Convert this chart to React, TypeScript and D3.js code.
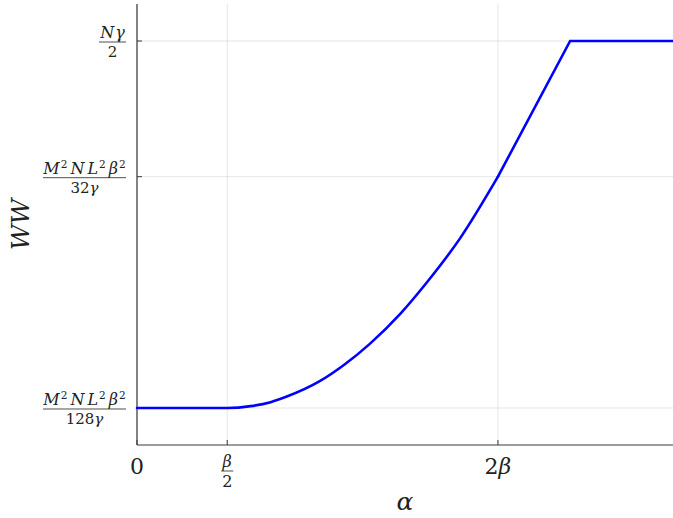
import React from 'react'
import * as d3 from 'd3'

// alpha (in units of beta) and WW (in units of M^2 N L^2 beta^2 / 32gamma)
const alphaCurve = [0, 0.5, 0.63, 0.74, 0.83, 1.01, 1.15, 1.29, 1.46, 1.61, 1.79, 2.0]
const wwCurve = [0.25, 0.25, 0.256, 0.269, 0.287, 0.336, 0.391, 0.458, 0.556, 0.66, 0.8, 1.0]
const alphaTail = [2.0, 2.4, 2.97]
const wwTail = [1.0, 1.44, 1.44]

const xTicks = [0, 0.5, 2]
const yTicks = [0.25, 1, 1.44]

const W = 673
const H = 518
const margin = { left: 137, right: 0, top: 4, bottom: 73 }
const serif = 'DejaVu Serif, serif'

const Sup = ({ children }: { children: string }) => (
  <tspan fontStyle="normal" fontSize="0.66em" dy={-6} dx={1}>{children}</tspan>
)
const I = ({ children, dy, dx = 3 }: { children: string; dy?: number; dx?: number }) => (
  <tspan fontStyle="italic" dy={dy} dx={dx}>{children}</tspan>
)

const Frac = ({ x, y, num, den, w, size = 15 }: any) => (
  <g fontFamily={serif} fill="#222">
    <text x={x - w / 2} y={y - 4} fontSize={size + 1} textAnchor="middle">{num}</text>
    <line x1={x - w} x2={x} y1={y} y2={y} stroke="#222" strokeWidth={0.8} />
    <text x={x - w / 2} y={y + 15} fontSize={size} textAnchor="middle">{den}</text>
  </g>
)

export default function App() {
  const x = d3.scaleLinear().domain([0, 2.97]).range([margin.left, W - margin.right])
  const y = d3.scaleLinear().domain([0.13, 1.56]).range([H - margin.bottom, margin.top])

  const curveLine = d3
    .line<number>()
    .x(d => x(d))
    .y((d, i) => y(wwCurve[i]))
    .curve(d3.curveMonotoneX)
  const tailLine = d3
    .line<number>()
    .x(d => x(d))
    .y((d, i) => y(wwTail[i]))

  const x0 = margin.left
  const x1 = W - margin.right
  const y0 = H - margin.bottom
  const y1 = margin.top

  const mNum = <><I dx={0}>M</I><Sup>2</Sup><I dy={6}>N</I><I>L</I><Sup>2</Sup><I dy={6}>β</I><Sup>2</Sup></>
  const yLabels = [
    { num: mNum, den: <>128<tspan fontStyle="italic">γ</tspan></>, w: 83 },
    { num: mNum, den: <>32<tspan fontStyle="italic">γ</tspan></>, w: 83 },
    { num: <><I dx={0}>N</I><I dx={1}>γ</I></>, den: <>2</>, w: 27 },
  ]

  return (
    <svg width={W} height={H} style={{ position: 'absolute', left: 0, top: 0, background: '#fff' }}>
      {/* grid */}
      {xTicks.map(t => (
        <line key={'gx' + t} x1={x(t)} x2={x(t)} y1={y0} y2={y1} stroke="#000" strokeOpacity={0.1} strokeWidth={1} />
      ))}
      {yTicks.map(t => (
        <line key={'gy' + t} x1={x0} x2={x1} y1={y(t)} y2={y(t)} stroke="#000" strokeOpacity={0.1} strokeWidth={1} />
      ))}

      {/* axes */}
      <line x1={x0} x2={x0} y1={y0} y2={y1} stroke="#3a3a3a" strokeWidth={1.2} />
      <line x1={x0} x2={x1} y1={y0} y2={y0} stroke="#3a3a3a" strokeWidth={1.2} />
      {xTicks.map(t => (
        <line key={'tx' + t} x1={x(t)} x2={x(t)} y1={y0} y2={y0 - 5} stroke="#3a3a3a" strokeWidth={1} />
      ))}
      {yTicks.map(t => (
        <line key={'ty' + t} x1={x0} x2={x0 + 5} y1={y(t)} y2={y(t)} stroke="#3a3a3a" strokeWidth={1} />
      ))}

      {/* data */}
      <path d={curveLine(alphaCurve) || ''} fill="none" stroke="#0000ff" strokeWidth={2.6} strokeLinecap="round" />
      <path d={tailLine(alphaTail) || ''} fill="none" stroke="#0000ff" strokeWidth={2.6} strokeLinecap="round" strokeLinejoin="miter" />

      {/* y tick labels */}
      {yTicks.map((t, i) => (
        <Frac key={'ly' + t} x={126} y={y(t) + 1} num={yLabels[i].num} den={yLabels[i].den} w={yLabels[i].w} />
      ))}

      {/* x tick labels */}
      <text x={x(0)} y={474} textAnchor="middle" fontFamily={serif} fontSize={22} fill="#222">0</text>
      <g fontFamily={serif} fontSize={16} fill="#222">
        <text x={x(0.5)} y={467} textAnchor="middle" fontStyle="italic">β</text>
        <line x1={x(0.5) - 6} x2={x(0.5) + 6} y1={471} y2={471} stroke="#222" strokeWidth={0.8} />
        <text x={x(0.5)} y={487} textAnchor="middle">2</text>
      </g>
      <text x={x(2)} y={474} textAnchor="middle" fontFamily={serif} fontSize={22} fill="#222">
        2<tspan fontStyle="italic">β</tspan>
      </text>

      {/* axis titles */}
      <text x={(x0 + x1) / 2} y={510} textAnchor="middle" fontFamily={serif} fontStyle="italic" fontSize={25} fill="#222">α</text>
      <text transform={`translate(29, ${(y0 + y1) / 2}) rotate(-90)`} textAnchor="middle" fontFamily={serif} fontStyle="italic" fontSize={25} fill="#222">WW</text>
    </svg>
  )
}
